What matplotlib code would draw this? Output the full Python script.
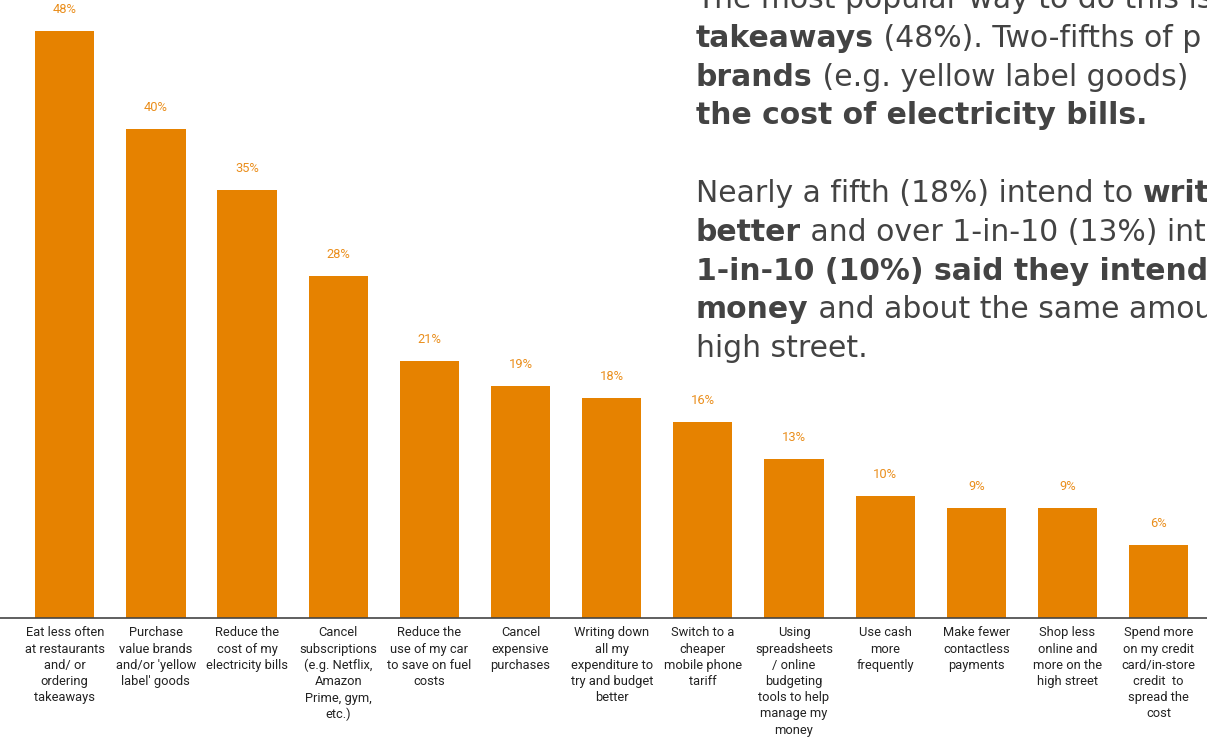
import matplotlib
matplotlib.use("Agg")
import matplotlib.pyplot as plt

# ---- data ----
categories = [
    "Eat less often\nat restaurants\nand/ or\nordering\ntakeaways",
    "Purchase\nvalue brands\nand/or 'yellow\nlabel' goods",
    "Reduce the\ncost of my\nelectricity bills",
    "Cancel\nsubscriptions\n(e.g. Netflix,\nAmazon\nPrime, gym,\netc.)",
    "Reduce the\nuse of my car\nto save on fuel\ncosts",
    "Cancel\nexpensive\npurchases",
    "Writing down\nall my\nexpenditure to\ntry and budget\nbetter",
    "Switch to a\ncheaper\nmobile phone\ntariff",
    "Using\nspreadsheets\n/ online\nbudgeting\ntools to help\nmanage my\nmoney",
    "Use cash\nmore\nfrequently",
    "Make fewer\ncontactless\npayments",
    "Shop less\nonline and\nmore on the\nhigh street",
    "Spend more\non my credit\ncard/in-store\ncredit  to\nspread the\ncost",
]
values = [48, 40, 35, 28, 21, 19, 18, 16, 13, 10, 9, 9, 6]

# paragraph lines (runs off the right edge, as in the source slide): (text, bold)
para_lines = [
    [("The most popular way to do this is", False)],
    [("takeaways", True), (" (48%). Two-fifths of p", False)],
    [("brands", True), (" (e.g. yellow label goods)", False)],
    [("the cost of electricity bills.", True)],
    [],
    [("Nearly a fifth (18%) intend to ", False), ("writ", True)],
    [("better", True), (" and over 1-in-10 (13%) inte", False)],
    [("1-in-10 (10%) said they intend to", True)],
    [("money", True), (" and about the same amou", False)],
    [("high street.", False)],
]

BAR = "#E68200"
LABEL = "#EA8E1C"
W, H = 1207, 737

fig = plt.figure(figsize=(W / 100, H / 100), dpi=100)
ax = fig.add_axes([0, (H - 618) / H, 1, 618 / H])

x = range(len(values))
ax.bar(x, values, width=0.65, color=BAR, zorder=2)
for xi, v in zip(x, values):
    ax.annotate(f"{v}%", (xi, v), xytext=(0, 15), textcoords="offset pixels",
                ha="center", va="bottom", color=LABEL, fontsize=9.3, family="Roboto")

ax.set_xlim(-0.71, 12.53)
ax.set_ylim(0, 50.53)
ax.set_yticks([])
ax.set_xticks(list(x))
ax.set_xticklabels(categories, fontsize=9.3, family="Roboto", color="#222222",
                   linespacing=1.32)
ax.tick_params(axis="x", length=0, pad=6)
for s in ["top", "right", "left"]:
    ax.spines[s].set_visible(False)
ax.spines["bottom"].set_color("#444444")
ax.spines["bottom"].set_linewidth(1.2)

# ---- paragraph text (mixed weight) ----
renderer = fig.canvas.get_renderer()
x0, y0, step = 696, 8, 38.8
for i, segs in enumerate(para_lines):
    px = x0
    py = y0 + i * step
    for txt, bold in segs:
        t = fig.text(px / W, 1 - py / H, txt, ha="left", va="baseline",
                     fontsize=21.5, family="DejaVu Sans", color="#434343",
                     fontweight="bold" if bold else "normal")
        px += t.get_window_extent(renderer).width

fig.savefig("out.png", dpi=100)
